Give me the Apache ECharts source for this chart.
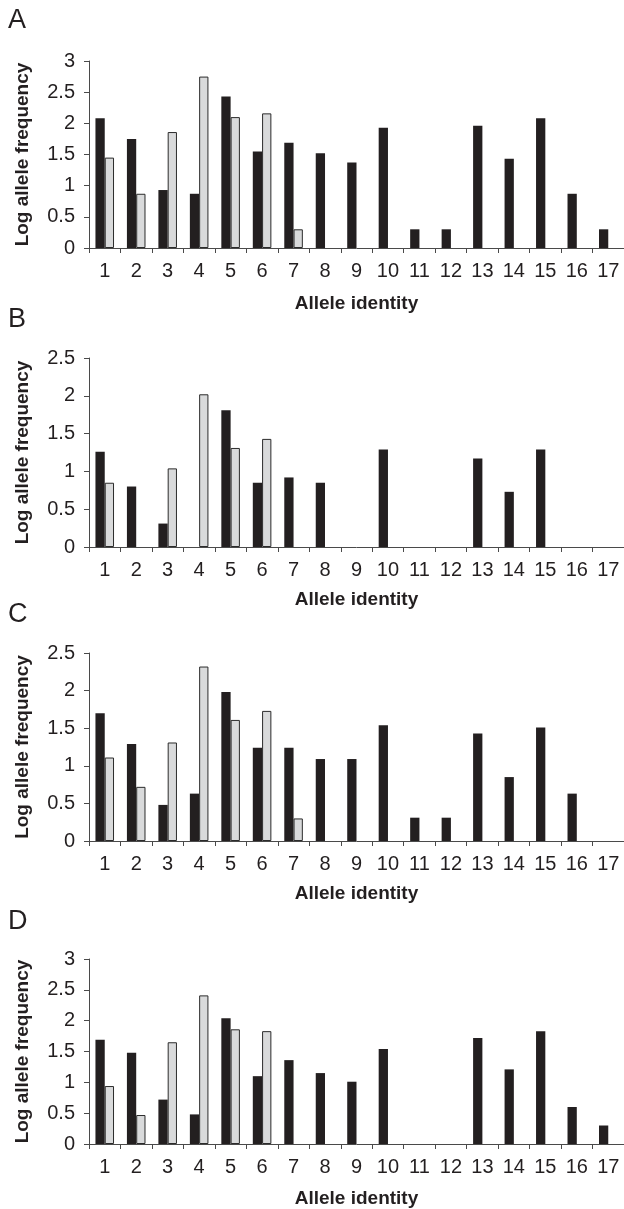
<!DOCTYPE html>
<html>
<head>
<meta charset="utf-8">
<script src="https://cdn.jsdelivr.net/npm/echarts@6/dist/echarts.min.js"></script>
<style>
html,body{margin:0;padding:0;background:#fff;}
#chart{width:624px;height:1209px;}
</style>
</head>
<body>
<div id="chart"></div>
<script>
var categories = ['1','2','3','4','5','6','7','8','9','10','11','12','13','14','15','16','17'];
var panelLabels = ['A','B','C','D'];
var yMax = [3, 2.5, 2.5, 3];
var yTitle = 'Log allele frequency';
var xTitle = 'Allele identity';

var blackA = [2.08,1.75,0.93,0.87,2.43,1.55,1.69,1.52,1.37,1.93,0.30,0.30,1.96,1.43,2.08,0.87,0.30];
var greyA  = [1.45,0.87,1.86,2.75,2.10,2.16,0.30,0,0,0,0,0,0,0,0,0,0];
var blackB = [1.26,0.80,0.31,0,1.81,0.85,0.92,0.85,0,1.29,0,0,1.17,0.73,1.29,0,0];
var greyB  = [0.85,0,1.04,2.02,1.31,1.43,0,0,0,0,0,0,0,0,0,0,0];
var blackC = [1.70,1.29,0.48,0.63,1.98,1.24,1.24,1.09,1.09,1.54,0.31,0.31,1.43,0.85,1.51,0.63,0];
var greyC  = [1.11,0.72,1.31,2.32,1.61,1.73,0.30,0,0,0,0,0,0,0,0,0,0];
var blackD = [1.69,1.48,0.72,0.48,2.04,1.10,1.36,1.15,1.01,1.54,0,0,1.72,1.21,1.83,0.60,0.30];
var greyD  = [0.94,0.47,1.65,2.41,1.86,1.83,0,0,0,0,0,0,0,0,0,0,0];

var blacks = [blackA, blackB, blackC, blackD];
var greys = [greyA, greyB, greyC, greyD];

var FONT = "'Liberation Sans', Arial, Helvetica, sans-serif";
var TXT = '#231f20';
var AX = '#4a4a4a';

var gridTops = [61, 358, 653, 959];
var gridHeights = [187, 189, 188, 188];
var xNameGaps = [46, 43, 43, 45];
var letterY = [22.5, 321, 616, 923];

function clean(arr){ return arr.map(function(v){ return v === 0 ? null : v; }); }

var grids = [], xAxes = [], yAxes = [], series = [], graphics = [];
for (var i = 0; i < 4; i++) {
  grids.push({left: 89, width: 536, top: gridTops[i], height: gridHeights[i], containLabel: false});
  xAxes.push({
    type: 'category', gridIndex: i, data: categories, boundaryGap: true,
    axisLine: {show: true, lineStyle: {color: AX, width: 1}},
    axisTick: {show: true, length: 5, lineStyle: {color: AX}},
    axisLabel: {color: TXT, fontSize: 20, fontFamily: FONT, margin: 13, interval: 0},
    splitLine: {show: false},
    name: xTitle, nameLocation: 'middle', nameGap: xNameGaps[i],
    nameTextStyle: {color: TXT, fontSize: 19, fontWeight: 'bold', fontFamily: FONT}
  });
  yAxes.push({
    type: 'value', gridIndex: i, min: 0, max: yMax[i], interval: 0.5,
    axisLine: {show: true, lineStyle: {color: AX, width: 1}},
    axisTick: {show: true, length: 5, lineStyle: {color: AX}},
    axisLabel: {color: TXT, fontSize: 20, fontFamily: FONT, margin: 14},
    splitLine: {show: false},
    name: yTitle, nameLocation: 'middle', nameRotate: 90, nameGap: 57,
    nameTextStyle: {color: TXT, fontSize: 19, fontWeight: 'bold', fontFamily: FONT}
  });
  series.push({
    type: 'bar', xAxisIndex: i, yAxisIndex: i, data: clean(blacks[i]),
    barGap: '0%', barCategoryGap: '41%',
    itemStyle: {color: '#231f20'}, silent: true
  });
  series.push({
    type: 'bar', xAxisIndex: i, yAxisIndex: i, data: clean(greys[i]),
    barGap: '0%', barCategoryGap: '41%',
    itemStyle: {color: '#d9dadb', borderColor: '#2b2b2b', borderWidth: 1}, silent: true
  });
  graphics.push({
    type: 'text', left: 8, top: letterY[i] - 15,
    style: {text: panelLabels[i], fill: TXT, font: '27px ' + FONT}
  });
}

var chart = echarts.init(document.getElementById('chart'), null, {renderer: 'canvas'});
chart.setOption({
  animation: false,
  backgroundColor: '#ffffff',
  grid: grids, xAxis: xAxes, yAxis: yAxes, series: series,
  graphic: graphics
});
</script>
</body>
</html>
